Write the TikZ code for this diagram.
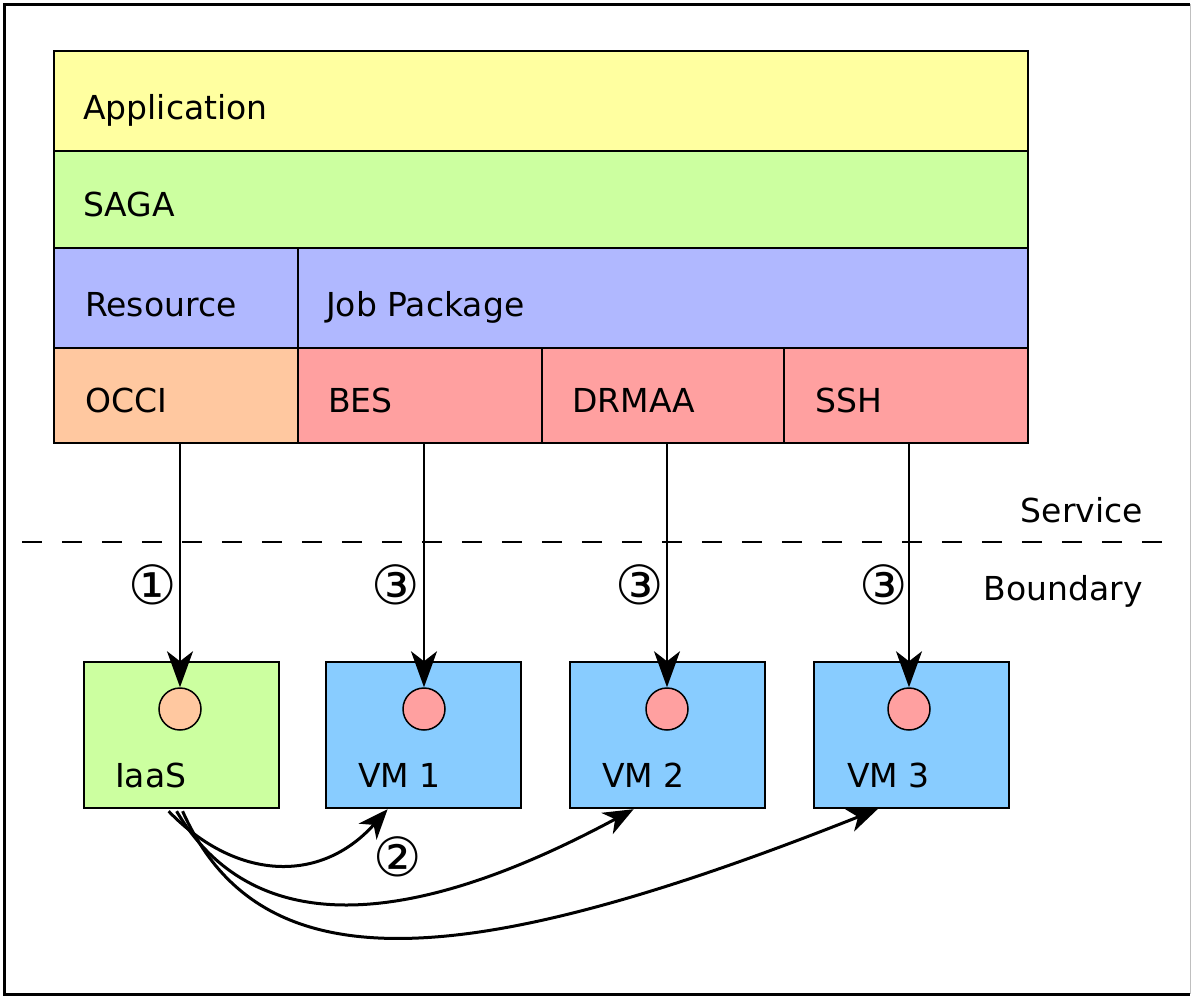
\documentclass[tikz,border=0pt]{standalone}
\usepackage{fontspec}
\setmainfont{DejaVu Sans}
\usetikzlibrary{arrows.meta,calc}
\definecolor{appyellow}{HTML}{FFFFA0}
\definecolor{sagagreen}{HTML}{CCFFA0}
\definecolor{resblue}{HTML}{B0B8FF}
\definecolor{occiorange}{HTML}{FFC8A0}
\definecolor{bespink}{HTML}{FFA0A0}
\definecolor{vmblue}{HTML}{88CCFF}
\begin{document}
\begin{tikzpicture}[x=1pt,y=-1pt,
  layer/.style={draw=black, line width=2.2pt, anchor=north west, inner sep=0pt},
  lbl/.style={anchor=base west, inner sep=0pt, font=\fontsize{33}{40}\selectfont},
  rlbl/.style={anchor=base east, inner sep=0pt, font=\fontsize{33}{40}\selectfont},
  host/.style={draw=black, line width=2.2pt, minimum width=195, minimum height=146, anchor=north west, inner sep=0pt},
  port/.style={circle, draw=black, line width=1.5pt, minimum size=42, inner sep=0pt},
  num/.style={font=\fontsize{54}{54}\selectfont, inner sep=0pt},
  call/.style={line width=2pt, -{Stealth[length=36pt,width=26pt,inset=10pt]}},
  spawn/.style={line width=3pt, -{Stealth[length=30pt,width=24pt,inset=9pt]}}
]
\useasboundingbox (0,0) rectangle (1192,996);
% frame
\draw[line width=3pt] (1190,4) -- (4,4) -- (4,994) -- (1190,994);
\draw[line width=1pt, black!25] (1190,4) -- (1190,994);

% layered stack
\node[layer, fill=appyellow, minimum width=974, minimum height=100] (app) at (53,50) {};
\node[layer, fill=sagagreen, minimum width=974, minimum height=97] (saga) at (53,150) {};
\node[layer, fill=resblue, minimum width=244, minimum height=100] (res) at (53,247) {};
\node[layer, fill=resblue, minimum width=730, minimum height=100] (job) at (297,247) {};
\node[layer, fill=occiorange, minimum width=244, minimum height=95] (occi) at (53,347) {};
\node[layer, fill=bespink, minimum width=244, minimum height=95] (bes) at (297,347) {};
\node[layer, fill=bespink, minimum width=242, minimum height=95] (drmaa) at (541,347) {};
\node[layer, fill=bespink, minimum width=244, minimum height=95] (ssh) at (783,347) {};

\node[lbl] (tapp) at (83,119) {Application};
\node[lbl] (tsaga) at (83,216) {SAGA};
\node[lbl] (tres) at (85,316) {Resource};
\node[lbl] (tjob) at (326,316) {Job Package};
\node[lbl] (tocci) at (85,412) {OCCI};
\node[lbl] (tbes) at (328,412) {BES};
\node[lbl] (tdrmaa) at (572,412) {DRMAA};
\node[lbl] (tssh) at (815,412) {SSH};

% service boundary
\coordinate (bl) at (22,542);
\coordinate (br) at (1165,542);
\draw[line width=2pt, dash pattern=on 20pt off 20pt] (bl) -- (br);
\node[rlbl] (tserv) at (1143,522) {Service};
\node[rlbl] (tbound) at (1143,600) {Boundary};

% hosts
\node[host, fill=sagagreen] (iaas) at (83,661) {};
\node[host, fill=vmblue] (vm1) at (325,661) {};
\node[host, fill=vmblue] (vm2) at (569,661) {};
\node[host, fill=vmblue] (vm3) at (813,661) {};

\node[lbl] (tiaas) at (115,787) {IaaS};
\node[lbl] (tvm1) at (358,787) {VM 1};
\node[lbl] (tvm2) at (602,787) {VM 2};
\node[lbl] (tvm3) at (847,787) {VM 3};

\node[port, fill=occiorange] (p0) at (180,709) {};
\node[port, fill=bespink] (p1) at (424,709) {};
\node[port, fill=bespink] (p2) at (667,709) {};
\node[port, fill=bespink] (p3) at (909,709) {};

% calls
\draw[call] (p0 |- occi.south) -- (p0.north);
\draw[call] (p1 |- bes.south) -- (p1.north);
\draw[call] (p2 |- drmaa.south) -- (p2.north);
\draw[call] (p3 |- ssh.south) -- (p3.north);

\node[num] (n1) at (153,585) {①};
\node[num] (n3a) at (396,585) {③};
\node[num] (n3b) at (640,585) {③};
\node[num] (n3c) at (884,585) {③};
\node[num] (n2) at (398,857) {②};

% spawning VMs
\coordinate (s1) at ($(iaas.south)+(-13,2)$);
\coordinate (s2) at ($(iaas.south)+(-5,2)$);
\coordinate (s3) at ($(iaas.south)+(1,2)$);
\coordinate (e1) at ($(vm1.south)+(-36,0)$);
\coordinate (e2) at ($(vm2.south)+(-34,0)$);
\coordinate (e3) at ($(vm3.south)+(-34,0)$);
\draw[spawn] (s1) .. controls (235,880) and (320,885) .. (e1);
\draw[spawn] (s2) .. controls (250,935) and (400,935) .. (e2);
\draw[spawn] (s3) .. controls (260,985) and (460,975) .. (e3);
\end{tikzpicture}
\end{document}
